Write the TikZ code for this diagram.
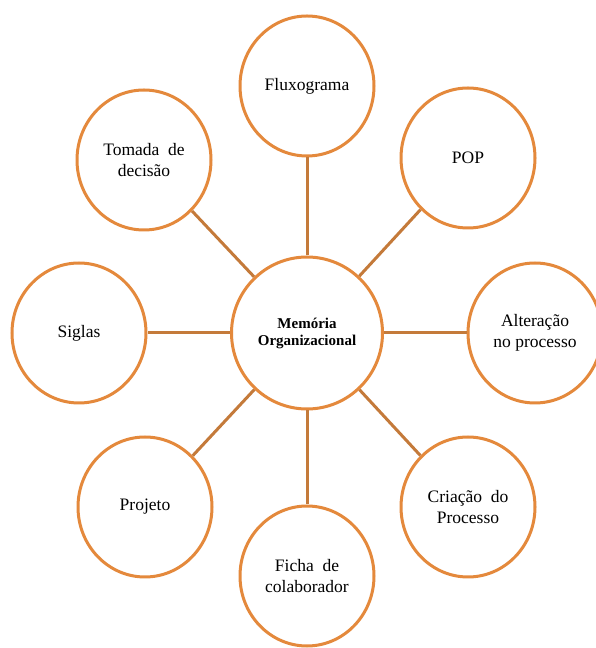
\documentclass[tikz,border=0pt]{standalone}
\usepackage{fontspec}
\setmainfont{Liberation Serif}
\usepackage{tikz}
\usetikzlibrary{shapes.geometric}

\definecolor{ringorange}{RGB}{228,137,60}
\definecolor{linkbrown}{RGB}{196,122,58}

\begin{document}
\begin{tikzpicture}[x=1pt, y=1pt,
                          centernode/.style={ellipse, draw=ringorange, line width=3pt, fill=white, minimum width=151pt, minimum height=152pt, align=center, font=\fontsize{15}{17}\selectfont\bfseries},
                          outernode/.style={ellipse, draw=ringorange, line width=3pt, fill=white, minimum width=134pt, minimum height=140pt, align=center, font=\fontsize{17.5}{21}\selectfont},
                          link/.style={draw=linkbrown, line width=3pt},
                      ]
                      \useasboundingbox (0,0) rectangle (595,648);
                      %               %Nodes
                      \node[centernode]    (mem)     at (307,315)    {Memória\\Organizacional};
                      \node[outernode]     (flux)    at (307,562)    {Fluxograma};
                      \node[outernode]     (pop)     at (468,490)    {POP};
                      \node[outernode]     (alt)     at (535,315)    {Alteração\\no processo};
                      \node[outernode]     (cria)    at (468,141)    {Criação\enspace do\\Processo};
                      \node[outernode]     (ficha)   at (307,72)     {Ficha\enspace de\\colaborador};
                      \node[outernode]     (proj)    at (145,141)    {Projeto};
                      \node[outernode]     (siglas)  at (79,315)     {Siglas};
                      \node[outernode]     (tomada)  at (144,488)    {Tomada\enspace de\\decisão};

                      %   %Lines
                      \draw[link] (mem) -- (flux);
                      \draw[link] (mem) -- (pop);
                      \draw[link] (mem) -- (alt);
                      \draw[link] (mem) -- (cria);
                      \draw[link] (mem) -- (ficha);
                      \draw[link] (mem) -- (proj);
                      \draw[link] (mem) -- (siglas);
                      \draw[link] (mem) -- (tomada);
                  \end{tikzpicture}
\end{document}
